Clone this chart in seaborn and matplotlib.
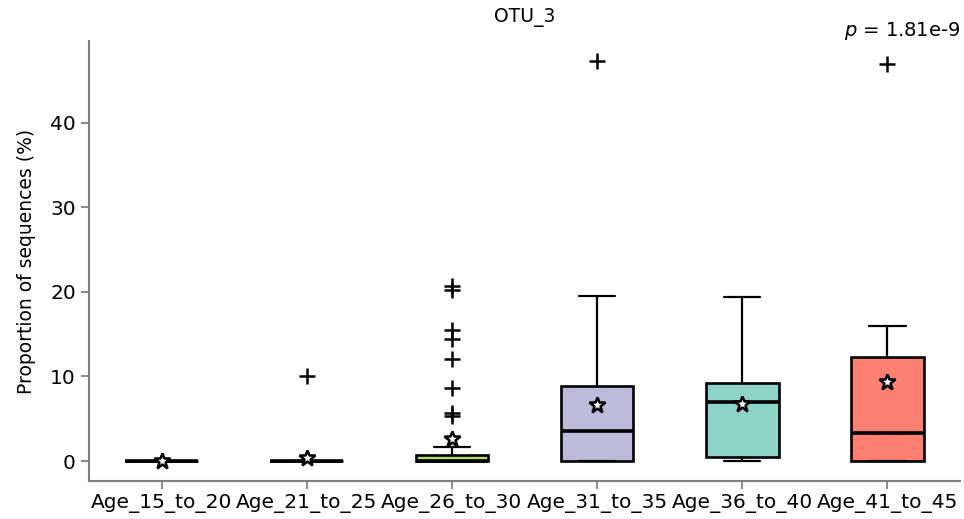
import matplotlib
matplotlib.use("Agg")
import matplotlib.pyplot as plt
import pandas as pd
import seaborn as sns

# Relative abundance of OTU_3 (% of sequences) per age group
groups = ["Age_15_to_20", "Age_21_to_25", "Age_26_to_30",
          "Age_31_to_35", "Age_36_to_40", "Age_41_to_45"]

age_15_20 = [0, 0, 0, 0, 0, 0, 0, 0, 0, 0, 0, 0, 0]
age_21_25 = [0.0] * 32 + [10.1]
age_26_30 = [0.0] * 21 + [0.02, 0.03, 0.05, 0.06, 0.08, 0.10, 0.12, 0.13, 0.16,
                          0.75, 0.8, 1.7,
                          5.36, 5.68, 8.68, 12.07, 14.4, 15.5, 20.2, 20.7]
age_31_35 = [0, 0, 0, 0, 0, 0, 0.3, 0.9, 1.6, 2.6, 3.51, 4.4, 5.3, 6.2, 7.5,
             8.84, 9.6, 10.5, 11.85, 19.5, 47.3]
age_36_40 = [0, 0.1, 0.3, 0.47, 2.5, 5.1, 6.94, 7.6, 8.4, 9.23, 11.8, 15.94, 19.37]
age_41_45 = [0, 0, 0, 0, 2.1, 3.0, 3.27, 10.2, 11.9, 12.27, 15.35, 15.94, 47.0]

group_colors = ["#ffffb3", "#80b1d3", "#b3de69", "#bebada", "#8dd3c7", "#fb8072"]
p_value_label = "$p$ = 1.81e-9"

samples = [age_15_20, age_21_25, age_26_30, age_31_35, age_36_40, age_41_45]
df = pd.DataFrame({
    "group": [g for g, vals in zip(groups, samples) for _ in vals],
    "value": [v for vals in samples for v in vals],
})

sns.set_style("ticks")
plt.rcParams["font.family"] = ["DejaVu Sans"]
plt.rcParams["text.color"] = "black"
plt.rcParams["axes.labelcolor"] = "black"
plt.rcParams["xtick.labelcolor"] = "black"
plt.rcParams["ytick.labelcolor"] = "black"

fig = plt.figure(figsize=(9.64, 5.19), dpi=100)
ax = fig.add_axes([0.0923, 0.0732, 0.9036, 0.8478])

sns.boxplot(
    data=df, x="group", y="value", hue="group", order=groups, hue_order=groups,
    palette=group_colors, saturation=1, legend=False, width=0.5, linewidth=1.9,
    linecolor="black", ax=ax,
    showmeans=True,
    meanprops=dict(marker="*", markerfacecolor="white", markeredgecolor="black",
                   markersize=12, markeredgewidth=1.8),
    flierprops=dict(marker="+", markersize=12, markeredgecolor="black",
                    markeredgewidth=1.8),
    medianprops=dict(color="black", linewidth=2.6),
    whiskerprops=dict(color="black", linewidth=1.6),
    capprops=dict(color="black", linewidth=1.6),
)

ax.set_xlim(-0.5, 5.5)
ax.set_yticks([0, 10, 20, 30, 40])
ax.set_xlabel("")
ax.set_ylabel("Proportion of sequences (%)", fontsize=13.5, labelpad=10)
ax.tick_params(axis="both", labelsize=14.5, color="#808080", length=6, width=1.3)

sns.despine(ax=ax)
for side in ("left", "bottom"):
    ax.spines[side].set_color("#808080")
    ax.spines[side].set_linewidth(1.5)

fig.text(0.5445, 0.966, "OTU_3", ha="center", va="center", fontsize=13.5)
fig.text(0.996, 0.940, p_value_label, ha="right", va="center", fontsize=14)

fig.savefig("out.png", dpi=100)
